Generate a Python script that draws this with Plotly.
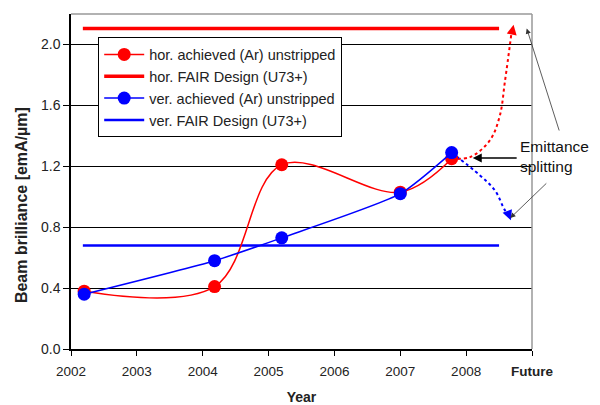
import plotly.graph_objects as go

# Data
hor_x = [2002.2, 2004.18, 2005.2, 2007.0, 2007.78]
hor_y = [0.38, 0.41, 1.21, 1.03, 1.25]
ver_x = [2002.2, 2004.18, 2005.2, 2007.0, 2007.78]
ver_y = [0.36, 0.58, 0.73, 1.02, 1.29]
design_x = [2002.18, 2008.5]
hor_design_y = [2.105, 2.105]
ver_design_y = [0.68, 0.68]
hor_future_x = [2007.78, 2008.06, 2008.36, 2008.51, 2008.59, 2008.69]
hor_future_y = [1.25, 1.26, 1.37, 1.53, 1.76, 2.08]
ver_future_x = [2007.78, 2008.21, 2008.44, 2008.59, 2008.65]
ver_future_y = [1.29, 1.14, 1.04, 0.91, 0.88]
tick_vals = [2002, 2003, 2004, 2005, 2006, 2007, 2008, 2009]
tick_text = ["2002", "2003", "2004", "2005", "2006", "2007", "2008", "<b>Future</b>"]

RED = "#ff0000"
BLUE = "#0000ff"
FONT = "Arial, Liberation Sans, sans-serif"

fig = go.Figure()
fig.add_trace(go.Scatter(x=design_x, y=hor_design_y, mode="lines", name="hor. FAIR Design (U73+)",
                         line=dict(color=RED, width=3.5), legendrank=2))
fig.add_trace(go.Scatter(x=design_x, y=ver_design_y, mode="lines", name="ver. FAIR Design (U73+)",
                         line=dict(color=BLUE, width=2.5), legendrank=4))
fig.add_trace(go.Scatter(x=hor_future_x, y=hor_future_y, mode="lines", showlegend=False,
                         line=dict(color=RED, width=2, dash="dot", shape="spline")))
fig.add_trace(go.Scatter(x=ver_future_x, y=ver_future_y, mode="lines", showlegend=False,
                         line=dict(color=BLUE, width=2, dash="dot", shape="spline")))
fig.add_trace(go.Scatter(x=hor_x, y=hor_y, mode="lines+markers", name="hor. achieved (Ar) unstripped",
                         line=dict(color=RED, width=1.5, shape="spline", smoothing=1.0),
                         marker=dict(size=13, color=RED), legendrank=1))
fig.add_trace(go.Scatter(x=ver_x, y=ver_y, mode="lines+markers", name="ver. achieved (Ar) unstripped",
                         line=dict(color=BLUE, width=1.5, shape="spline", smoothing=0.6),
                         marker=dict(size=13, color=BLUE), legendrank=3))

annotations = [
    dict(x=2008.72, y=2.13, ax=2008.69, ay=2.06, axref="x", ayref="y", xref="x", yref="y",
         showarrow=True, arrowhead=2, arrowsize=1, arrowwidth=2, arrowcolor=RED, text=""),
    dict(x=2008.68, y=0.845, ax=2008.63, ay=0.9, axref="x", ayref="y", xref="x", yref="y",
         showarrow=True, arrowhead=2, arrowsize=1, arrowwidth=2, arrowcolor=BLUE, text=""),
    dict(x=2008.1, y=1.254, ax=2008.79, ay=1.254, axref="x", ayref="y", xref="x", yref="y",
         showarrow=True, arrowhead=2, arrowsize=1.2, arrowwidth=1.5, arrowcolor="black", text=""),
    dict(x=2008.92, y=2.105, ax=2009.42, ay=1.425, axref="x", ayref="y", xref="x", yref="y",
         showarrow=True, arrowhead=2, arrowsize=1.3, arrowwidth=0.8, arrowcolor="#333333", text=""),
    dict(x=2008.67, y=0.86, ax=2009.24, ay=1.097, axref="x", ayref="y", xref="x", yref="y",
         showarrow=True, arrowhead=2, arrowsize=1.3, arrowwidth=0.8, arrowcolor="#333333", text=""),
    dict(x=2008.79, y=1.267, xref="x", yref="y", xanchor="left", yanchor="middle", align="left",
         showarrow=False, text="Emittance<br>splitting", font=dict(family=FONT, size=15.5, color="#111111")),
    dict(x=-0.106, y=0.43, xref="paper", yref="paper", xanchor="center", yanchor="middle",
         textangle=-90, showarrow=False, text="<b>Beam brilliance [emA/µm]</b>",
         font=dict(family=FONT, size=16, color="#222222")),
]

shapes = [
    dict(type="line", xref="paper", yref="paper", x0=0, x1=1, y0=1, y1=1, line=dict(color="#999999", width=1.5)),
    dict(type="line", xref="paper", yref="paper", x0=1, x1=1, y0=0, y1=1, line=dict(color="#999999", width=1.5)),
]

fig.update_layout(
    width=592, height=397,
    margin=dict(l=63, r=68, t=6, b=56, autoexpand=False),
    paper_bgcolor="white", plot_bgcolor="white",
    font=dict(family=FONT, size=13, color="#222222"),
    showlegend=True,
    legend=dict(x=0.059, y=0.93, xanchor="left", yanchor="top",
                bordercolor="black", borderwidth=1, bgcolor="white",
                font=dict(family=FONT, size=14.5, color="#222222"),
                tracegroupgap=0, itemwidth=40, traceorder="normal"),
    xaxis=dict(range=[2002, 2009], tickvals=tick_vals, ticktext=tick_text, showgrid=False,
               showline=True, linecolor="black", linewidth=1.5, ticks="outside", ticklen=5,
               tickcolor="black", zeroline=False, automargin=False, ticklabelstandoff=4,
               title=dict(text="<b>Year</b>", font=dict(size=14), standoff=19),
               tickfont=dict(size=13.5)),
    yaxis=dict(range=[0, 2.2], tickvals=[0, 0.4, 0.8, 1.2, 1.6, 2.0], tickformat=".1f",
               showgrid=True, gridcolor="black", gridwidth=1, showline=True, linecolor="black",
               linewidth=1.5, ticks="outside", ticklen=6, tickcolor="black", zeroline=False,
               automargin=False, tickfont=dict(size=14)),
    annotations=annotations,
    shapes=shapes,
)

fig.write_html("out.html")
